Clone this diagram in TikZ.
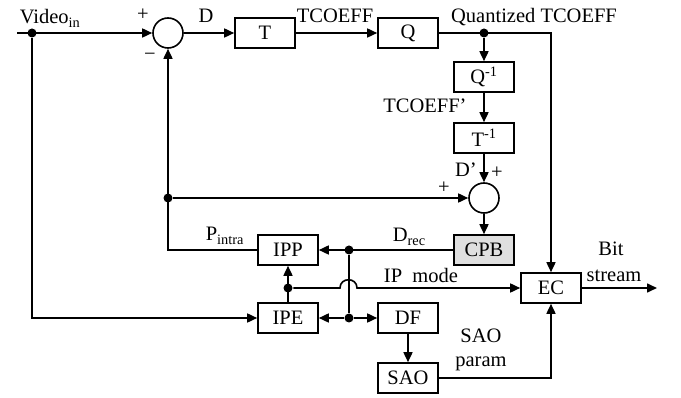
\documentclass[tikz,border=0pt]{standalone}
\usepackage{fontspec}
\setmainfont{Liberation Serif}
\usetikzlibrary{arrows.meta}
\begin{document}
\begin{tikzpicture}[x=1pt, y=-1pt, line width=1.6pt,
    >={Triangle[length=10pt,width=9pt]},
    every node/.style={font=\fontsize{20.5}{24}\selectfont},
    blk/.style={draw, rectangle, minimum width=60pt, minimum height=30pt, inner sep=0pt},
    sum/.style={draw, circle, minimum size=30pt, inner sep=0pt},
    dot/.style={circle, fill, minimum size=9pt, inner sep=0pt},
    lbl/.style={inner sep=0pt, anchor=base}]
    \useasboundingbox (0,0) rectangle (681,398);

    % Forward path
    \coordinate (in) at (17,33);
    \node[dot] (dVid) at (32,33) {};
    \node[sum] (add1) at (168,33) {};
    \node[blk] (T) at (265,33) {T};
    \node[blk] (Q) at (408,33) {Q};
    \node[dot] (dQ) at (484,33) {};
    \coordinate (cQ) at (551,33);

    % Reconstruction path
    \node[blk] (Qinv) at (484,77) {Q\textsuperscript{-1}};
    \node[blk] (Tinv) at (484,138) {T\textsuperscript{-1}};
    \node[sum] (add2) at (484,198) {};
    \node[blk, fill=gray!25] (CPB) at (484,250) {CPB};
    \node[dot] (dFb) at (168,198) {};
    \coordinate (cPi) at (168,250);

    % Intra prediction and loop filters
    \node[blk] (IPP) at (288,250) {IPP};
    \node[blk] (IPE) at (288,318) {IPE};
    \node[blk] (DF) at (408,318) {DF};
    \node[blk] (SAO) at (408,378) {SAO};
    \node[blk] (EC) at (551,288) {EC};
    \node[dot] (dRec) at (349,250) {};
    \node[dot] (dMode) at (288,288) {};
    \node[dot] (dLoop) at (349,318) {};
    \coordinate (cVid) at (32,318);
    \coordinate (cSao) at (551,378);
    \coordinate (hopL) at (340,288);
    \coordinate (hopR) at (357,288);
    \coordinate (out) at (657,288);

    % Connectors
    \draw[->] (in) -- (add1);
    \draw[->] (add1) -- (T);
    \draw[->] (T) -- (Q);
    \draw[->] (Q) -- (cQ) -- (EC);
    \draw[->] (dQ) -- (Qinv);
    \draw[->] (Qinv) -- (Tinv);
    \draw[->] (Tinv) -- (add2);
    \draw[->] (add2) -- (CPB);
    \draw[->] (CPB) -- (IPP);
    \draw[->] (IPP) -- (cPi) -- (add1);
    \draw[->] (dFb) -- (add2);
    \draw (dRec) -- (dLoop);
    \draw[->] (dLoop) -- (IPE);
    \draw[->] (dLoop) -- (DF);
    \draw[->] (dVid) -- (cVid) -- (IPE);
    \draw[->] (IPE) -- (IPP);
    % IP mode hops over the vertical line
    \draw[->] (dMode) -- (hopL) .. controls (340,277) and (357,277) .. (hopR) -- (EC);
    \draw[->] (DF) -- (SAO);
    \draw[->] (SAO) -- (cSao) -- (EC);
    \draw[->] (EC) -- (out);

    % Labels
    \node[lbl, anchor=base west] (tVid) at (19,24) {Video\textsubscript{in}};
    \node (tP1) at (143,15) {+};
    \node (tM1) at (150,57) {−};
    \node[lbl] (tD) at (206,23) {D};
    \node[lbl] (tTc) at (335,23) {TCOEFF};
    \node[lbl] (tQt) at (534,23) {Quantized TCOEFF};
    \node[lbl] (tTcp) at (425,113) {TCOEFF’};
    \node[lbl] (tDp) at (466,177) {D’};
    \node (tP2) at (497,173) {+};
    \node (tP3) at (444,188) {+};
    \node[lbl, anchor=base west] (tPi) at (205,241) {P\textsubscript{intra}};
    \node[lbl, anchor=base west] (tDr) at (392,242) {D\textsubscript{rec}};
    \node[lbl] (tMode) at (421,283) {IP\ \ mode};
    \node[lbl] (tBit) at (611,256) {Bit};
    \node[lbl] (tStr) at (614,282) {stream};
    \node[lbl] (tSao) at (481,343) {SAO};
    \node[lbl] (tPar) at (481,367) {param};
\end{tikzpicture}
\end{document}
